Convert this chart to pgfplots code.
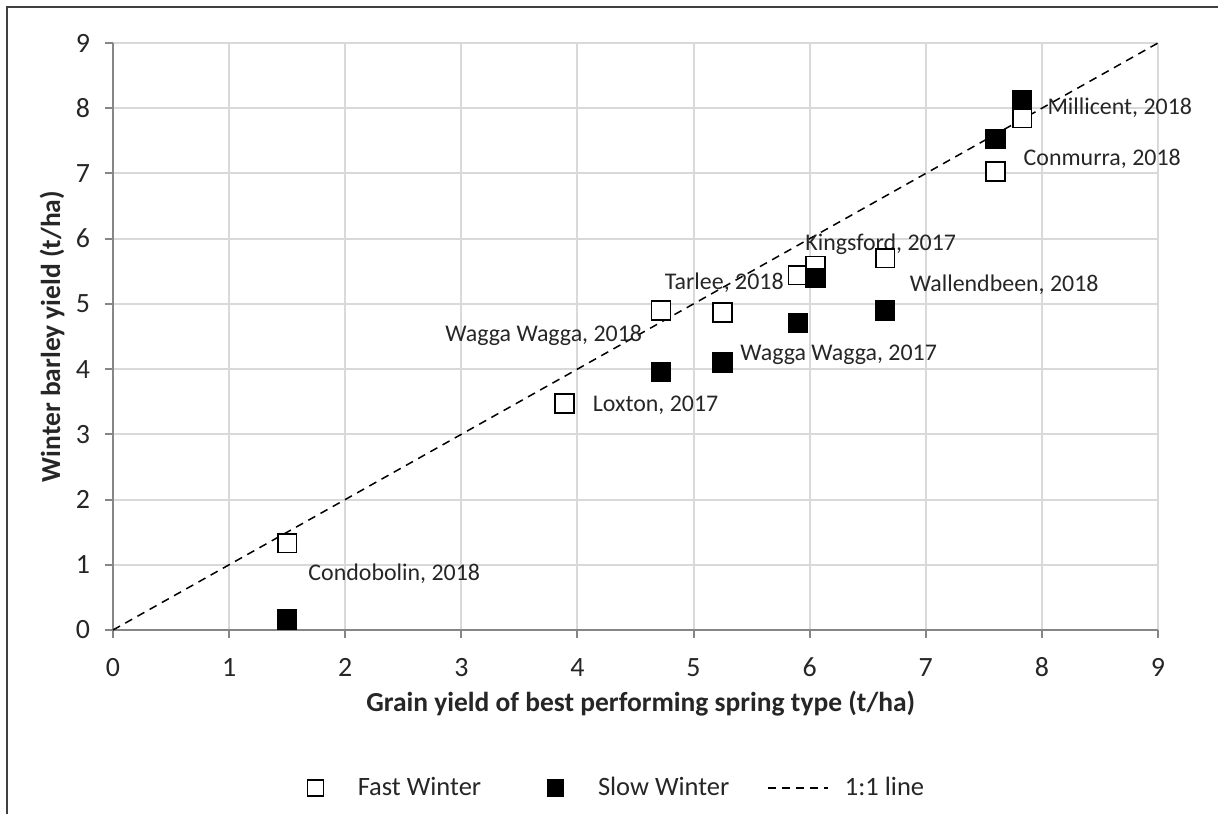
\documentclass[border=0pt]{standalone}
\usepackage{pgfplots}
\pgfplotsset{compat=1.18}
\usepackage{fontspec}
\setmainfont{Carlito}

\definecolor{gridgray}{HTML}{D9D9D9}
\definecolor{axisgray}{HTML}{868686}
\definecolor{framegray}{HTML}{404040}

\pgfplotsset{
  % square marker legend entry: mark near the left, text 21bp to the right of it
  marklegend/.style={legend image code/.code={%
      \path (0bp,0bp) (26bp,0bp);
      \draw[##1, mark size=4bp] plot coordinates {(5bp,0bp)};}},
  % dashed line legend entry
  dashlegend/.style={legend image code/.code={%
      \path (0bp,0bp) (38bp,0bp);
      \draw[##1] (0bp,0bp) -- (30bp,0bp);}},
}

\begin{document}
\begin{tikzpicture}
\useasboundingbox (0,0) rectangle (609bp,407bp);
% outer chart frame (left and top edges)
\draw[framegray, line width=1bp] (3.5bp,0) -- (3.5bp,403.5bp) -- (609bp,403.5bp);

\begin{axis}[
  at={(56.5bp,92bp)}, anchor=south west,
  width=522.5bp, height=293.5bp, scale only axis,
  xmin=0, xmax=9, ymin=0, ymax=9,
  xtick={0,...,9}, ytick={0,...,9},
  axis x line*=bottom, axis y line*=left,
  axis line style={axisgray, line width=1bp, -},
  grid=major,
  major grid style={gridgray, line width=1bp},
  tick align=outside, major tick length=4bp,
  tick style={axisgray, line width=1bp},
  /pgf/number format/assume math mode=true,
  ticklabel style={font=\fontsize{14}{16}\selectfont, text=black!85},
  xticklabel style={yshift=-5.5bp, text height=10bp, text depth=0pt},
  yticklabel style={xshift=-4bp},
  xlabel={Grain yield of best performing spring type (t/ha)},
  ylabel={Winter barley yield (t/ha)},
  label style={font=\fontsize{13.8}{16}\selectfont\bfseries, text=black!85},
  xlabel style={at={(axis description cs:0.505,-0.125)}, anchor=center},
  ylabel style={at={(axis description cs:-0.0584,0.5)}, anchor=center},
  legend columns=3,
  legend style={at={(0.1837,-0.2692)}, anchor=west, draw=none,
    inner sep=0pt, outer sep=0pt,
    nodes={inner sep=0pt},
    font=\fontsize{13.3}{15}\selectfont, text=black!85,
    /tikz/column 2/.style={column sep=32bp},
    /tikz/column 4/.style={column sep=19bp}},
  legend cell align=left,
  clip=false,
]
% 1:1 reference line
\addplot[black, line width=0.75bp, dash pattern=on 4bp off 3bp,
  forget plot] coordinates {(0,0) (9,9)};

% Fast winter types
\addplot[only marks, mark=square*, mark size=4.7bp,
  mark options={fill=white, draw=black, line width=0.8bp}, marklegend]
  coordinates {
  (1.50,1.33) (3.89,3.47) (4.72,4.90) (5.25,4.87) (5.90,5.44)
  (6.05,5.58) (6.65,5.70) (7.60,7.03) (7.83,7.85)
  };
% Slow winter types
\addplot[only marks, mark=square*, mark size=4.7bp,
  mark options={fill=black, draw=black, line width=0.8bp}, marklegend]
  coordinates {
  (1.50,0.16) (4.72,3.96) (5.25,4.10) (5.90,4.71) (6.05,5.40)
  (6.65,4.90) (7.60,7.53) (7.83,8.13)
  };
% 1:1 line, drawn again for the legend
\addplot[black, line width=0.75bp, dash pattern=on 4bp off 3bp, dashlegend]
  coordinates {(0,0) (0,0)};

\legend{Fast Winter, Slow Winter, 1:1 line}

% site labels
\begin{scope}[every node/.style={anchor=west, inner sep=0pt,
    font=\fontsize{12}{14}\selectfont, text=black!85}]
\node at (axis cs:8.045,8.00) {Millicent, 2018};
\node at (axis cs:7.84,7.22) {Conmurra, 2018};
\node at (axis cs:5.96,5.92) {Kingsford, 2017};
\node at (axis cs:4.75,5.32) {Tarlee, 2018};
\node at (axis cs:6.86,5.29) {Wallendbeen, 2018};
\node at (axis cs:2.86,4.51) {Wagga Wagga, 2018};
\node at (axis cs:5.40,4.22) {Wagga Wagga, 2017};
\node at (axis cs:4.13,3.45) {Loxton, 2017};
\node at (axis cs:1.68,0.87) {Condobolin, 2018};
\end{scope}
\end{axis}
\end{tikzpicture}
\end{document}
